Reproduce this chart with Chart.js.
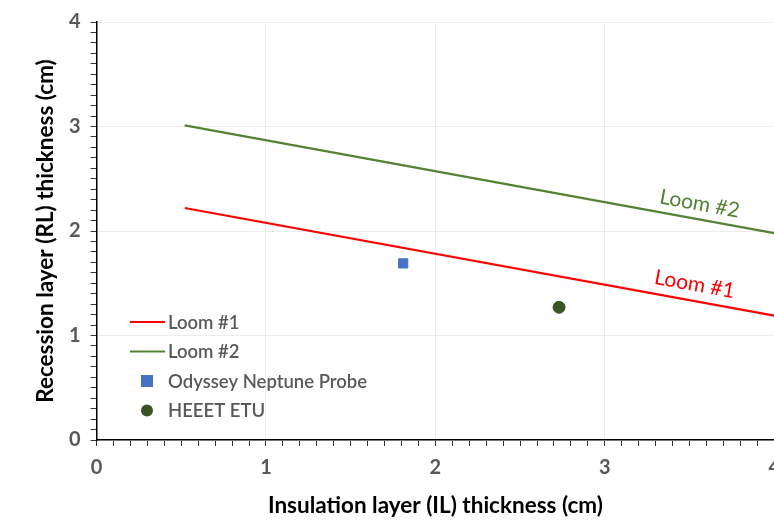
<!DOCTYPE html>
<html lang="en">
<head>
<meta charset="UTF-8">
<title>Recession vs insulation layer thickness</title>
<script src="https://cdn.jsdelivr.net/npm/chart.js"></script>
<style>
  html, body { margin: 0; padding: 0; background: #fff; overflow: hidden; }
  #wrap { width: 790px; height: 527px; }
</style>
</head>
<body>
<div id="wrap"><canvas id="chart"></canvas></div>
<script>
  // Loom lines (end points)
  const loomX = [0.52, 4];
  const loom1Y = [2.22, 1.19];
  const loom2Y = [3.01, 1.98];
  // measured designs
  const odysseyPoint = [1.81, 1.69];
  const heeetPoint = [2.73, 1.27];
  const seriesLabels = ['Loom #1', 'Loom #2', 'Odyssey Neptune Probe', 'HEEET ETU'];
  const xTicks = [0, 1, 2, 3, 4];
  const yTicks = [0, 1, 2, 3, 4];

  const FONT = 'Lato, "Open Sans", sans-serif';
  const isMajor = v => Math.abs(v - Math.round(v)) < 1e-6;

  // legend drawn inside the plot area, lower left
  const insideLegend = {
    id: 'insideLegend',
    afterDraw(chart) {
      const ctx = chart.ctx;
      const x0 = 130, y0 = 322, gap = 29.5;
      ctx.save();
      ctx.font = '600 18.5px ' + FONT;
      ctx.textBaseline = 'middle';
      chart.data.datasets.forEach((ds, i) => {
        const y = y0 + i * gap;
        if (ds.showLine) {
          ctx.strokeStyle = ds.borderColor;
          ctx.lineWidth = 2.2;
          ctx.beginPath(); ctx.moveTo(x0, y); ctx.lineTo(x0 + 35, y); ctx.stroke();
        } else if (ds.pointStyle === 'rect') {
          ctx.fillStyle = ds.backgroundColor;
          ctx.fillRect(x0 + 11, y - 6, 12, 12);
        } else {
          ctx.fillStyle = ds.backgroundColor;
          ctx.beginPath(); ctx.arc(x0 + 17, y, 6, 0, Math.PI * 2); ctx.fill();
        }
        ctx.fillStyle = '#595959';
        ctx.fillText(ds.label, x0 + 38, y + 1);
      });
      ctx.restore();
    }
  };

  // line labels, rotated along the lines
  const lineLabels = {
    id: 'lineLabels',
    afterDatasetsDraw(chart) {
      const ctx = chart.ctx;
      const xs = chart.scales.x, ys = chart.scales.y;
      const put = (text, color, xv, yv, slopeData) => {
        const px = xs.getPixelForValue(xv), py = ys.getPixelForValue(yv);
        const dx = xs.getPixelForValue(loomX[1]) - xs.getPixelForValue(loomX[0]);
        const dy = ys.getPixelForValue(slopeData[1]) - ys.getPixelForValue(slopeData[0]);
        ctx.save();
        ctx.translate(px, py);
        ctx.rotate(Math.atan2(dy, dx));
        ctx.font = '21px ' + FONT;
        ctx.fillStyle = color;
        ctx.textAlign = 'center';
        ctx.textBaseline = 'middle';
        ctx.fillText(text, 0, 0);
        ctx.restore();
      };
      put(seriesLabels[1], '#548235', 3.56, 2.26, loom2Y);
      put(seriesLabels[0], '#ff0000', 3.53, 1.49, loom1Y);
    }
  };

  const axisCommon = {
    type: 'linear',
    border: { color: '#000', width: 1.5 },
    grid: {
      color: c => isMajor(c.tick.value) ? '#ededed' : 'rgba(0,0,0,0)',
      tickColor: '#333',
      tickLength: 6
    }
  };

  new Chart(document.getElementById('chart'), {
    type: 'scatter',
    data: {
      datasets: [{
        label: seriesLabels[0],
        data: loomX.map((x, i) => ({ x: x, y: loom1Y[i] })),
        showLine: true,
        borderColor: '#ff0000',
        borderWidth: 2.2,
        pointRadius: 0
      }, {
        label: seriesLabels[1],
        data: loomX.map((x, i) => ({ x: x, y: loom2Y[i] })),
        showLine: true,
        borderColor: '#548235',
        borderWidth: 2.2,
        pointRadius: 0
      }, {
        label: seriesLabels[2],
        data: [{ x: odysseyPoint[0], y: odysseyPoint[1] }],
        pointStyle: 'rect',
        pointRadius: 6.5,
        backgroundColor: '#4472c4',
        borderColor: '#4472c4'
      }, {
        label: seriesLabels[3],
        data: [{ x: heeetPoint[0], y: heeetPoint[1] }],
        pointStyle: 'circle',
        pointRadius: 6,
        backgroundColor: '#375623',
        borderColor: '#375623'
      }]
    },
    options: {
      responsive: true,
      maintainAspectRatio: false,
      animation: false,
      layout: { padding: { top: 4, left: 32, bottom: 8, right: 0 } },
      plugins: { legend: { display: false }, tooltip: { enabled: false } },
      scales: {
        x: {
          ...axisCommon,
          min: xTicks[0], max: xTicks[xTicks.length - 1],
          ticks: {
            stepSize: 0.1,
            maxTicksLimit: 100,
            autoSkip: false,
            maxRotation: 0,
            padding: 10,
            color: '#595959',
            font: { family: FONT, size: 20, weight: 'bold' },
            callback: v => (isMajor(v) && xTicks.includes(Math.round(v))) ? String(Math.round(v)) : ''
          },
          title: {
            display: true,
            text: 'Insulation layer (IL) thickness (cm)',
            color: '#000',
            font: { family: FONT, size: 22.5, weight: 'bold' },
            padding: { top: 2, bottom: 0 }
          }
        },
        y: {
          ...axisCommon,
          min: yTicks[0], max: yTicks[yTicks.length - 1],
          ticks: {
            stepSize: 0.1,
            maxTicksLimit: 100,
            autoSkip: false,
            padding: 10,
            color: '#595959',
            font: { family: FONT, size: 20, weight: 'bold' },
            callback: v => (isMajor(v) && yTicks.includes(Math.round(v))) ? String(Math.round(v)) : ''
          },
          title: {
            display: true,
            text: 'Recession layer (RL) thickness (cm)',
            color: '#000',
            font: { family: FONT, size: 22.5, weight: 'bold' },
            padding: { top: 0, bottom: 0 }
          }
        }
      }
    },
    plugins: [lineLabels, insideLegend]
  });
</script>
</body>
</html>
